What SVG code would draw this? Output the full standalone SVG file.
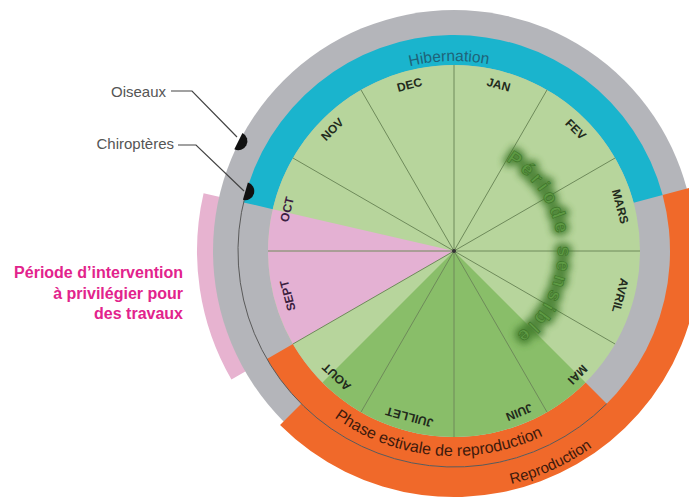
<svg xmlns="http://www.w3.org/2000/svg" width="689" height="499" viewBox="0 0 689 499">
<style>
.mon{font-family:"Liberation Sans",Arial,sans-serif;font-weight:bold;font-size:12px;fill:#222a1c;text-anchor:middle;dominant-baseline:central}
.monp{fill:#3b2040}
.lbl{font-family:"Liberation Sans",Arial,sans-serif;font-size:15px;fill:#555;text-anchor:end}
.mag{font-family:"Liberation Sans",Arial,sans-serif;font-weight:bold;font-size:16px;fill:#e2238c;text-anchor:end}
.sep{stroke:#6e8a5a;stroke-width:1;fill:none}
.lead{stroke:#444;stroke-width:1.2;fill:none}
.mark{fill:#111}
</style>
<defs>
<filter id="glow" x="-20%" y="-20%" width="140%" height="140%"><feGaussianBlur stdDeviation="3.5"/></filter>
<path id="pHib" d="M 316.18 120.21 A 190 190 0 0 1 584.79 113.18"/>
<path id="pPhase" d="M 276.46 353.5 A 205 205 0 0 0 611.04 382.77"/>
<path id="pRepro" d="M 352.57 468.51 A 240 240 0 0 0 684.7 317.15"/>
<path id="pSens" d="M 506 160.93 A 104 104 0 0 1 516.59 334.06"/>
</defs>
<rect width="689" height="499" fill="#fff"/>
<g id="wheel">
<path d="M 203.59 193.19 A 257 257 0 0 0 231.43 379.5 L 254.81 366 A 230 230 0 0 1 229.89 199.26 Z" fill="#e7b3d0"/>
<circle cx="454" cy="251" r="241" fill="#b4b5ba"/>
<path d="M 691.62 187.33 A 246 246 0 0 1 280.05 424.95 L 301.26 403.74 A 216 216 0 0 0 662.64 195.09 Z" fill="#f0692a"/>
<path d="M 243.54 202.41 A 216 216 0 0 1 662.64 195.09 L 633.66 202.86 A 186 186 0 0 0 272.77 209.16 Z" fill="#1ab4cd"/>
<path d="M 606.74 403.74 A 216 216 0 0 1 266.94 359 L 292.92 344 A 186 186 0 0 0 585.52 382.52 Z" fill="#f0692a"/>
<circle cx="454" cy="251" r="186" fill="#b7d59c"/>
<path d="M 454 251 L 292.92 344 A 186 186 0 0 1 272.77 209.16 Z" fill="#e4b1d3"/>
<path d="M 454 251 L 585.52 382.52 A 186 186 0 0 1 322.48 382.52 Z" fill="#89be69"/>
</g>
<g id="connectors">
<path class="sep" d="M454 65 L454 437 M547 89.92 L361 412.08 M615.08 158 L292.92 344 M640 251 L268 251 M615.08 344 L292.92 158 M547 412.08 L361 89.92"/>
<path d="M 606.74 403.74 A 216 216 0 0 1 245.36 195.09" stroke="#5a5a5a" stroke-width="1" fill="none"/>
<circle cx="454" cy="251" r="2" fill="#333"/>
<path class="lead" d="M171 91 L192 91 L237 137"/>
<path class="lead" d="M178 145 L196 145 L244 191"/>
</g>
<g id="months">
<text class="mon" transform="translate(498.52 84.86) rotate(15)">JAN</text>
<text class="mon" transform="translate(575.62 129.38) rotate(45)">FEV</text>
<text class="mon" transform="translate(620.14 206.48) rotate(75)">MARS</text>
<text class="mon" transform="translate(620.14 295.52) rotate(105)">AVRIL</text>
<text class="mon" transform="translate(577.6 374.6) rotate(135)">MAI</text>
<text class="mon" transform="translate(519.18 412.33) rotate(158)">JUIN</text>
<text class="mon" transform="translate(409.48 417.14) rotate(195)">JUILLET</text>
<text class="mon" transform="translate(336.7 376.79) rotate(223)">AOUT</text>
<text class="mon monp" transform="translate(287.86 295.52) rotate(255)">SEPT</text>
<text class="mon monp" transform="translate(287.11 209.39) rotate(284)">OCT</text>
<text class="mon" transform="translate(332.38 129.38) rotate(315)">NOV</text>
<text class="mon" transform="translate(409.48 84.86) rotate(345)">DEC</text>
</g>
<g id="bands">
<text font-family="Liberation Sans, Arial, sans-serif" font-size="15.5" fill="#1f6378" text-anchor="middle"><textPath href="#pHib" startOffset="50%">Hibernation</textPath></text>
<text font-family="Liberation Sans, Arial, sans-serif" font-size="16" fill="#3e1a0c" text-anchor="middle"><textPath href="#pPhase" startOffset="50%">Phase estivale de reproduction</textPath></text>
<text font-family="Liberation Sans, Arial, sans-serif" font-size="15" fill="#3e1a0c" text-anchor="middle"><textPath href="#pRepro" startOffset="50%">Reproduction</textPath></text>
</g>
<g id="sensible">
<text font-family="Liberation Sans, Arial, sans-serif" font-weight="bold" font-size="19" fill="#3f7a2a" stroke="#3f7a2a" stroke-width="8" stroke-linejoin="round" opacity="0.85" filter="url(#glow)"><textPath href="#pSens" textLength="205" lengthAdjust="spacing">Période sensible</textPath></text>
<text font-family="Liberation Sans, Arial, sans-serif" font-weight="bold" font-size="19" fill="#5e9a44" stroke="#3d7328" stroke-width="0.6"><textPath href="#pSens" textLength="205" lengthAdjust="spacing">Période sensible</textPath></text>
</g>
<g id="oiseaux">
<path class="mark" d="M 242.47 133.11 A 9 9 0 0 1 234.29 149.15 Z"/>
<text class="lbl" x="166" y="96.5">Oiseaux</text>
</g>
<g id="chiropteres">
<path class="mark" d="M 247.89 182.54 A 9 9 0 0 1 242.93 199.84 Z"/>
<text class="lbl" x="174" y="149">Chiroptères</text>
</g>
<g id="intervention">
<text class="mag" x="183" y="278">Période d’intervention</text>
<text class="mag" x="183" y="298.5">à privilégier pour</text>
<text class="mag" x="183" y="319">des travaux</text>
</g>
</svg>
